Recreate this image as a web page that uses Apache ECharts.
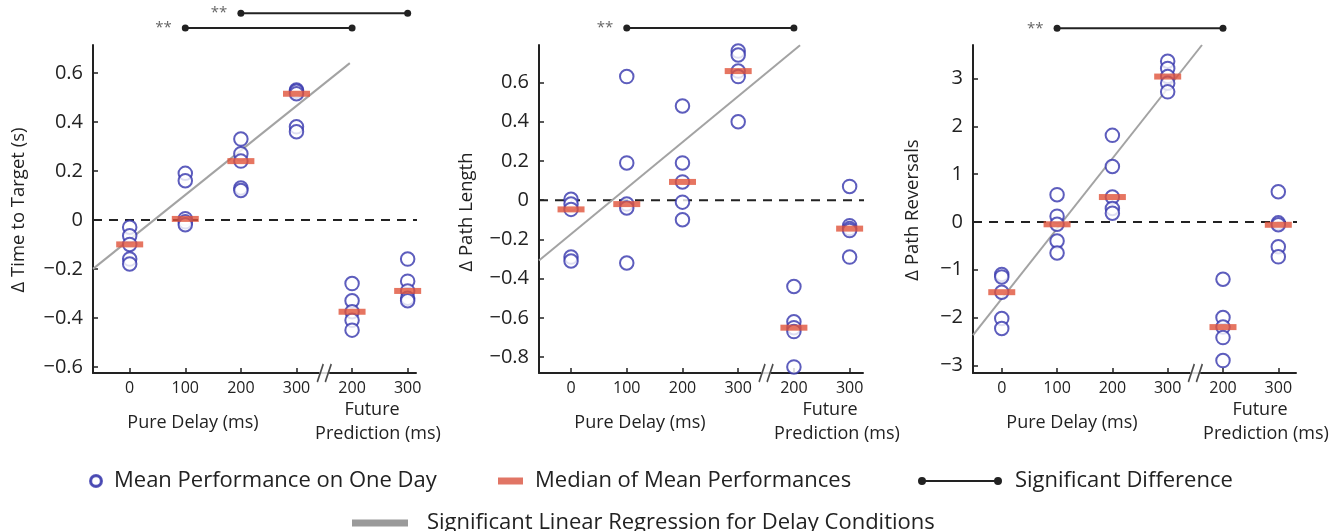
<!DOCTYPE html>
<html><head><meta charset="utf-8">
<script src="https://cdn.jsdelivr.net/npm/echarts@6/dist/echarts.min.js"></script>
<style>html,body{margin:0;padding:0;background:#fff}#c{width:1343px;height:531px}</style>
</head><body><div id="c"></div>
<script>
// ---------- DATA ----------
const xTickLabels = ['0', '100', '200', '300', '200', '300'];
const xPositions = [0, 1, 2, 3, 4, 5];
const yTicks1 = [-0.6, -0.4, -0.2, 0, 0.2, 0.4, 0.6];
const yTicks2 = [-0.8, -0.6, -0.4, -0.2, 0, 0.2, 0.4, 0.6];
const yTicks3 = [-3, -2, -1, 0, 1, 2, 3];
const yNames = ['\u0394 Time to Target (s)', '\u0394 Path Length', '\u0394 Path Reversals'];

// daily means per condition (0,100,200,300 pure delay; 200,300 future prediction)
const timeToTarget = [
  [-0.03, -0.065, -0.1, -0.16, -0.18],
  [0.19, 0.16, 0.005, -0.008, -0.02],
  [0.33, 0.27, 0.24, 0.13, 0.12],
  [0.53, 0.525, 0.515, 0.38, 0.36],
  [-0.26, -0.33, -0.375, -0.41, -0.45],
  [-0.16, -0.25, -0.29, -0.32, -0.33]
];
const timeToTargetMedian = [-0.1, 0.004, 0.24, 0.515, -0.375, -0.29];

const pathLength = [
  [0.005, -0.02, -0.047, -0.29, -0.31],
  [0.63, 0.19, -0.02, -0.04, -0.32],
  [0.48, 0.19, 0.093, -0.01, -0.1],
  [0.76, 0.74, 0.658, 0.63, 0.40],
  [-0.44, -0.62, -0.65, -0.67, -0.85],
  [0.07, -0.13, -0.145, -0.155, -0.29]
];
const pathLengthMedian = [-0.047, -0.02, 0.093, 0.658, -0.65, -0.145];

const pathReversals = [
  [-1.1, -1.15, -1.47, -2.02, -2.23],
  [0.57, 0.12, -0.05, -0.4, -0.65],
  [1.81, 1.16, 0.52, 0.28, 0.18],
  [3.36, 3.21, 3.04, 2.9, 2.72],
  [-1.2, -2.0, -2.2, -2.42, -2.9],
  [0.63, -0.02, -0.06, -0.52, -0.73]
];
const pathReversalsMedian = [-1.47, -0.05, 0.52, 3.04, -2.2, -0.06];

// regression line end points [x, y]
const regression1 = [[-0.66, -0.2], [3.96, 0.64]];
const regression2 = [[-0.575, -0.307], [4.11, 0.79]];
const regression3 = [[-0.52, -2.37], [3.62, 3.70]];

// significance brackets: [fromIndex, toIndex, level]
const sig1 = [[2, 5, 0.844], [1, 4, 0.783]];
const sig2 = [[1, 4, 0.878]];
const sig3 = [[1, 4, 4.05]];

// ---------- LAYOUT ----------
const FONT = "'Open Sans', sans-serif";
const INK = '#222';
const BLUE = '#3434ad';
const RED = '#e0533a';
const GRAY = '#a3a3a3';
const layout = [
  { left: 93, width: 323, xMin: -0.66, xMax: 5.15, yMin: -0.625, yMax: 0.714, nameX: 19, nameY: 210 },
  { left: 539, width: 324, xMin: -0.575, xMax: 5.24, yMin: -0.881, yMax: 0.791, nameX: 467, nameY: 212 },
  { left: 973, width: 323, xMin: -0.52, xMax: 5.32, yMin: -3.16, yMax: 3.70, nameX: 913, nameY: 210 }
];
const panels = [
  { values: timeToTarget, medians: timeToTargetMedian, reg: regression1, sig: sig1, ticks: yTicks1 },
  { values: pathLength, medians: pathLengthMedian, reg: regression2, sig: sig2, ticks: yTicks2 },
  { values: pathReversals, medians: pathReversalsMedian, reg: regression3, sig: sig3, ticks: yTicks3 }
];

const N_MEAN = 'Mean Performance on One Day';
const N_MED = 'Median of Mean Performances';
const N_SIG = 'Significant Difference';
const N_REG = 'Significant Linear Regression for Delay Conditions';

function fmtY(v) {
  if (v === 0) return '0';
  return v < 0 ? '\u2212' + String(Math.abs(v)) : String(v);
}

const grids = [], xAxes = [], yAxes = [], series = [];
panels.forEach((p, i) => {
  const L = layout[i];
  grids.push({ left: L.left, top: 45, width: L.width, height: 328 });
  xAxes.push({
    type: 'value', gridIndex: i, min: L.xMin, max: L.xMax,
    axisLine: { show: true, onZero: false, lineStyle: { color: INK, width: 2 } },
    axisTick: { show: true, inside: true, length: 5, customValues: xPositions, lineStyle: { color: INK, width: 1.5 } },
    axisLabel: { show: true, customValues: xPositions, margin: 7, fontSize: 16, color: INK, fontFamily: FONT,
      formatter: v => xTickLabels[Math.round(v)] },
    splitLine: { show: false }
  });
  yAxes.push({
    type: 'value', gridIndex: i, min: L.yMin, max: L.yMax,
    axisLine: { show: true, onZero: false, lineStyle: { color: INK, width: 2 } },
    axisTick: { show: true, inside: true, length: 5, customValues: p.ticks, lineStyle: { color: INK, width: 1.5 } },
    axisLabel: { show: true, customValues: p.ticks, margin: 10, fontSize: 20, color: INK, fontFamily: FONT, formatter: fmtY },
    splitLine: { show: false }
  });

  // zero dashed reference line
  series.push({
    type: 'line', xAxisIndex: i, yAxisIndex: i, silent: true, clip: false, z: 1,
    data: [[L.xMin, 0], [L.xMax + 0.2, 0]], symbol: 'none',
    lineStyle: { color: INK, width: 2, type: [9, 7] }
  });
  // regression
  series.push({
    name: N_REG, type: 'line', xAxisIndex: i, yAxisIndex: i, clip: false, z: 2,
    data: p.reg, symbol: 'none', lineStyle: { color: GRAY, width: 2 }, itemStyle: { color: GRAY }
  });
  // daily means
  const pts = [];
  p.values.forEach((arr, c) => arr.forEach(v => pts.push([xPositions[c], v])));
  series.push({
    name: N_MEAN, type: 'scatter', xAxisIndex: i, yAxisIndex: i, z: 3,
    data: pts, symbol: 'emptyCircle', symbolSize: 13.5,
    itemStyle: { color: BLUE, borderColor: BLUE, borderWidth: 1.6 }
  });
  // medians
  series.push({
    name: N_MED, type: 'scatter', xAxisIndex: i, yAxisIndex: i, z: 4,
    data: p.medians.map((v, c) => [xPositions[c], v]), symbol: 'rect', symbolSize: [27, 6],
    itemStyle: { color: RED }
  });
  // significance brackets
  p.sig.forEach(s => {
    series.push({
      name: N_SIG, type: 'line', xAxisIndex: i, yAxisIndex: i, clip: false, z: 5,
      symbol: 'circle', symbolSize: 7,
      lineStyle: { color: INK, width: 2 }, itemStyle: { color: INK },
      data: [
        { value: [s[0], s[2]], label: { show: true, formatter: '**', position: 'left', distance: 10, color: '#666', fontSize: 15, fontFamily: FONT } },
        [s[1], s[2]]
      ]
    });
  });
  // axis break marker
  series.push({
    type: 'scatter', xAxisIndex: i, yAxisIndex: i, silent: true, clip: false, z: 6,
    data: [[3.5, L.yMin]], symbol: 'rect', symbolSize: [10, 8], itemStyle: { color: '#fff' }
  });
  series.push({
    type: 'scatter', xAxisIndex: i, yAxisIndex: i, silent: true, clip: false, z: 7,
    data: [[3.5, L.yMin]], symbol: 'path://M0,18 L6,0 M8,18 L14,0', symbolSize: [14, 18],
    itemStyle: { color: 'none', borderColor: INK, borderWidth: 1.8 }
  });
});

// axis titles (layout text)
const titleStyle = { fontSize: 18, fill: INK, fontFamily: FONT, textAlign: 'center', textVerticalAlign: 'middle' };
const titles = [
  ['Pure Delay (ms)', 193, 423], ['Future', 372, 410], ['Prediction (ms)', 378, 434],
  ['Pure Delay (ms)', 640, 423], ['Future', 830, 410], ['Prediction (ms)', 837, 434],
  ['Pure Delay (ms)', 1072, 423], ['Future', 1260, 410], ['Prediction (ms)', 1266, 434]
];
const graphic = titles.map(t => ({ type: 'text', x: t[1], y: t[2], style: Object.assign({ text: t[0] }, titleStyle) }));
layout.forEach((L, i) => graphic.push({
  type: 'text', x: L.nameX, y: L.nameY, rotation: Math.PI / 2,
  style: { text: yNames[i], fontSize: 18.5, fill: INK, fontFamily: FONT, textAlign: 'center', textVerticalAlign: 'middle' }
}));

const legTxt = { fontSize: 22, color: INK, fontFamily: FONT, lineHeight: 24 };
const ringIcon = 'path://M6,0 A6,6 0 1 1 6,12 A6,6 0 1 1 6,0 Z M6,1.2 A4.8,4.8 0 1 0 6,10.8 A4.8,4.8 0 1 0 6,1.2 Z';
const legends = [
  { data: [N_MEAN], left: 89, top: 469, icon: ringIcon, itemWidth: 12, itemHeight: 12,
    itemStyle: { color: '#5c5ca6' }, textStyle: Object.assign({ padding: [0, 0, 0, 7] }, legTxt) },
  { data: [N_MED], left: 498, top: 469, icon: 'rect', itemWidth: 25, itemHeight: 7,
    itemStyle: { color: '#d9533f' }, textStyle: Object.assign({ padding: [0, 0, 0, 7] }, legTxt) },
  { data: [N_SIG], left: 918, top: 469, icon: 'path://M4,0 A4,4 0 1 1 4,8 A4,4 0 1 1 4,0 Z M4,3 L80,3 L80,5 L4,5 Z M80,0 A4,4 0 1 1 80,8 A4,4 0 1 1 80,0 Z',
    itemWidth: 84, itemHeight: 8, itemStyle: { color: INK }, textStyle: Object.assign({ padding: [0, 0, 0, 8] }, legTxt) },
  { data: [N_REG], left: 352, top: 511, icon: 'rect', itemWidth: 56, itemHeight: 7,
    itemStyle: { color: '#9a9a9a' }, textStyle: Object.assign({ padding: [0, 0, 0, 14] }, legTxt) }
].map(l => Object.assign({ orient: 'horizontal', padding: 0, selectedMode: false }, l));

const chart = echarts.init(document.getElementById('c'), null, { renderer: 'canvas' });
chart.setOption({
  animation: false,
  backgroundColor: '#fff',
  textStyle: { fontFamily: FONT },
  grid: grids, xAxis: xAxes, yAxis: yAxes, series: series,
  legend: legends, graphic: graphic
});
</script></body></html>
